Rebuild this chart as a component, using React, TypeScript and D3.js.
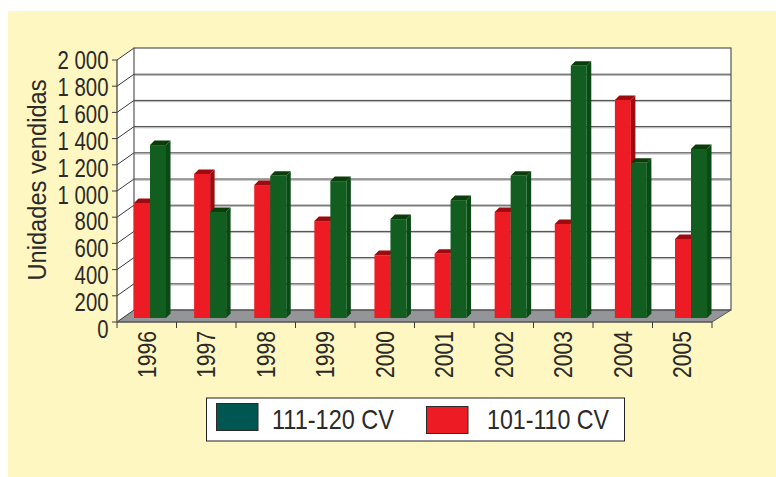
import React from "react";
import * as d3 from "d3";

const years = ["1996","1997","1998","1999","2000","2001","2002","2003","2004","2005"];
const red = [878,1100,1015,740,480,490,810,718,1665,603];
const green = [1320,810,1085,1045,755,900,1085,1925,1185,1290];
const yTicks = [0,200,400,600,800,1000,1200,1400,1600,1800,2000];
const tickLabels = ["0","200","400","600","800","1 000","1 200","1 400","1 600","1 800","2 000"];
const seriesNames = ["111-120 CV","101-110 CV"];

const W = 776, H = 477;
const FONT = "'Liberation Sans', Arial, sans-serif";
const INK = "#2b2a29";
const DX = 17, DY = 12;

const yBack = d3.scaleLinear().domain([0,2000]).range([310,48]);
const yLabel = d3.scaleLinear().domain([0,2000]).range([338,69]);
const yBar = (v:number) => yBack(v) + 8;
const xTick = d3.scaleLinear().domain([0,10]).range([117,712]);
const xBar = d3.scaleLinear().domain([0,9]).range([134,675]);
const barW = 16, dSide = 4.5, dTop = 4.5;

function Bar({x,v,front,side,top}:{x:number;v:number;front:string;side:string;top:string}) {
  const y = yBar(v), b = yBar(0);
  const pts = (a:number[][]) => a.map(p=>p.join(",")).join(" ");
  return <g>
    <polygon points={pts([[x+barW,y],[x+barW+dSide,y-dTop],[x+barW+dSide,b-dTop],[x+barW,b]])} fill={side}/>
    <polygon points={pts([[x,y],[x+dSide,y-dTop],[x+barW+dSide,y-dTop],[x+barW,y]])} fill={top}/>
    <rect x={x} y={y} width={barW} height={b-y} fill={front}/>
  </g>;
}

export default function App() {
  const l = xTick(0), r = xTick(10), y0 = yBack(0)+DY;
  return (
    <svg width={W} height={H} viewBox={`0 0 ${W} ${H}`} style={{position:"absolute",left:0,top:0,display:"block",background:"#fff"}} fontFamily={FONT}>
      <rect x={8} y={11} width={W-8} height={H-11} fill="#fef7c1"/>
      <polygon points={`${l},${y0} ${l+DX},${yBack(0)} ${l+DX},${yBack(2000)} ${l},${yBack(2000)+DY}`} fill="#fff"/>
      <rect x={l+DX} y={yBack(2000)} width={r+19-l-DX} height={yBack(0)-yBack(2000)} fill="#fff"/>
      {yTicks.slice(1).map(t=>(
        <g key={t}>
          {t<2000 && <line x1={l+DX} x2={r+19} y1={yBack(t)+1.2} y2={yBack(t)+1.2} stroke="#b5b5b5" strokeWidth={1}/>}
          {t<2000 && <line x1={l+DX} x2={r+19} y1={yBack(t)} y2={yBack(t)} stroke="#444" strokeWidth={1}/>}
        </g>
      ))}
      <polygon points={`${l},${y0} ${l+DX},${yBack(0)} ${r+19},${yBack(0)} ${r},${y0}`} fill="#939598"/>
      <line x1={l+DX} x2={r+19} y1={yBack(0)} y2={yBack(0)} stroke="#555" strokeWidth={1}/>
      {yTicks.map((t,i)=>(
        <g key={t}>
          <line x1={l} y1={yBack(t)+DY} x2={l+DX} y2={yBack(t)} stroke="#3a3a3a" strokeWidth={1}/>
          <line x1={l-5} y1={yBack(t)+DY} x2={l} y2={yBack(t)+DY} stroke="#3a3a3a" strokeWidth={1}/>
          <text x={108.5} y={yLabel(t)} textAnchor="end" fontSize={25} fill={INK}
            textLength={tickLabels[i].length>3?51:tickLabels[i].length*11.3} lengthAdjust="spacingAndGlyphs">{tickLabels[i]}</text>
        </g>
      ))}
      <rect x={l+DX} y={yBack(2000)} width={r+19-l-DX} height={yBack(0)-yBack(2000)} fill="none" stroke="#555" strokeWidth={1.2}/>
      <line x1={l} x2={l} y1={yBack(2000)+DY} y2={y0} stroke="#3a3a3a" strokeWidth={1.2}/>
      <line x1={l} x2={r} y1={y0} y2={y0} stroke="#555" strokeWidth={1.6}/>
      <line x1={r} y1={y0} x2={r+19} y2={yBack(0)} stroke="#555" strokeWidth={1}/>
      {d3.range(11).map(i=>(
        <line key={i} x1={xTick(i)} x2={xTick(i)} y1={y0} y2={y0+6} stroke="#3a3a3a" strokeWidth={1}/>
      ))}
      {years.map((yr,i)=>(
        <g key={yr}>
          <Bar x={xBar(i)} v={red[i]} front="#ed1c24" side="#9e0b0f" top="#9e0b0f"/>
          <Bar x={xBar(i)+barW} v={green[i]} front="#115e20" side="#0a4a14" top="#0a3d0a"/>
          <text transform={`translate(${(xTick(i)+xTick(i+1))/2+9},378) rotate(-90)`} fontSize={25} fill={INK}
            textLength={47} lengthAdjust="spacingAndGlyphs">{yr}</text>
        </g>
      ))}
      <text transform="translate(46,180) rotate(-90)" textAnchor="middle" fontSize={26} fill={INK}
        textLength={201} lengthAdjust="spacingAndGlyphs">Unidades vendidas</text>
      <rect x={206.5} y={398} width={418} height={43} fill="#fff" stroke="#222" strokeWidth={1}/>
      <rect x={216.5} y={403.5} width={41.5} height={27} fill="#005650" stroke="#2b2a29" strokeWidth={1}/>
      <text x={272} y={429} fontSize={28} fill={INK} textLength={122} lengthAdjust="spacingAndGlyphs">{seriesNames[0]}</text>
      <rect x={426.5} y={406.5} width={41.5} height={27} fill="#ed1c24" stroke="#2b2a29" strokeWidth={1}/>
      <text x={487} y={429} fontSize={28} fill={INK} textLength={122} lengthAdjust="spacingAndGlyphs">{seriesNames[1]}</text>
    </svg>
  );
}
